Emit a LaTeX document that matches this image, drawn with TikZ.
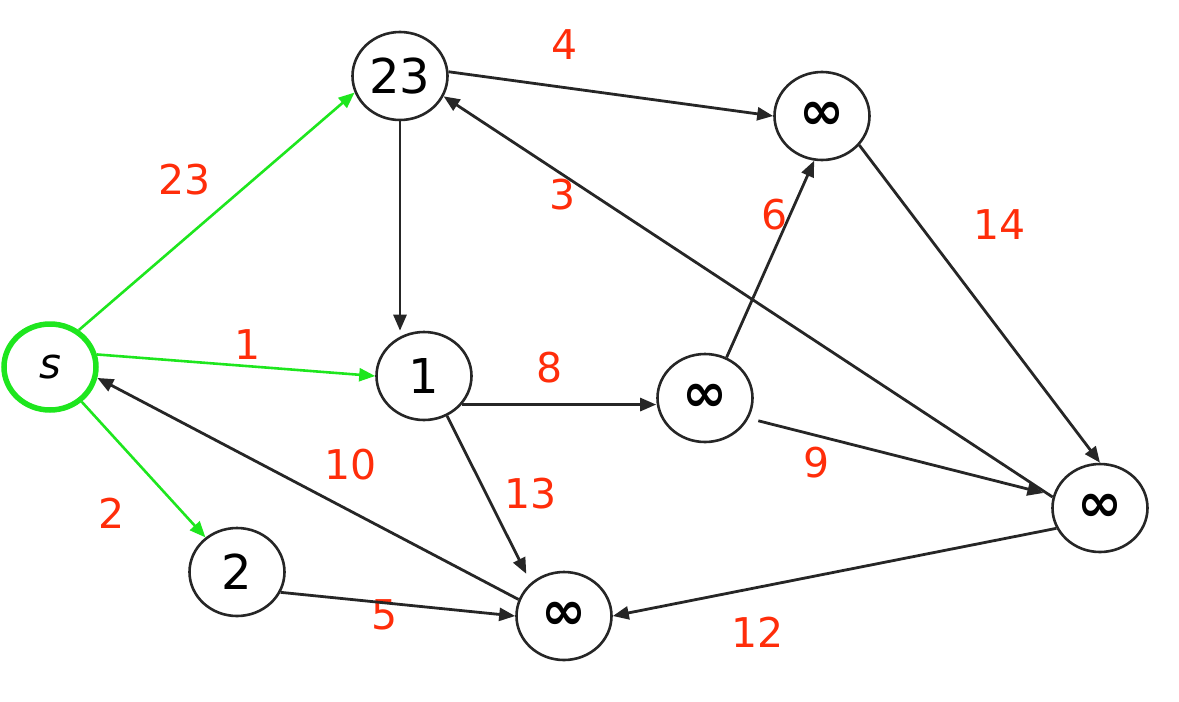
\documentclass[tikz,border=0pt]{standalone}
\usepackage{fontspec}
\setmainfont{DejaVu Sans}
\usetikzlibrary{shapes.geometric,arrows.meta}
\definecolor{lbl}{RGB}{255,45,10}
\definecolor{grn}{RGB}{30,230,30}
\newcommand{\infsym}{{\fontsize{54}{60}\selectfont\bfseries ∞}}
\tikzset{
  vtx/.style={ellipse,draw=black!85,line width=2.6pt,inner sep=0pt,
    minimum width=95pt,minimum height=88pt,
    font=\fontsize{48}{56}\selectfont},
  src/.style={vtx,draw=grn,line width=5.5pt,minimum width=92pt,minimum height=86pt,
    font=\fontsize{42}{50}\selectfont\itshape},
  wt/.style={text=lbl,inner sep=0pt,font=\fontsize{41}{48}\selectfont},
  blk/.style={draw=black!85,line width=2.8pt,-{Triangle[length=16pt,width=13pt]}},
  gre/.style={draw=grn,line width=2.6pt,-{Triangle[length=16pt,width=13pt]}}
}
\begin{document}
\begin{tikzpicture}[x=1pt,y=-1pt]
\useasboundingbox (0,0) rectangle (1179,702);
\node[src] (s) at (50,367) {s};
\node[vtx] (n23) at (400,76) {23};
\node[vtx] (tr) at (822,116) {\infsym};
\node[vtx] (n1) at (424,376) {1};
\node[vtx] (mid) at (705,398) {\infsym};
\node[vtx] (rn) at (1100,508) {\infsym};
\node[vtx] (n2) at (237,572) {2};
\node[vtx] (nb) at (564,616) {\infsym};
% weights
\node[wt] (w23) at (185,180) {23};
\node[wt] (w4) at (565,45) {4};
\node[wt] (w3) at (563,195) {3};
\node[wt] (w6) at (775,215) {6};
\node[wt] (w14) at (1000,225) {14};
\node[wt] (w1) at (248,345) {1};
\node[wt] (w8) at (550,368) {8};
\node[wt] (w9) at (817,463) {9};
\node[wt] (w10) at (351,465) {10};
\node[wt] (w13) at (531,494) {13};
\node[wt] (w2) at (112,513) {2};
\node[wt] (w5) at (385,615) {5};
\node[wt] (w12) at (758,632) {12};
% green edges
\draw[gre] (s.52) -- (n23.200);
\draw[gre] (s.15) -- (n1.west);
\draw[gre] (s) -- (n2);
% black edges
\draw[blk] (nb.160) -- (s.-13);
\draw[blk] (n23.south) -- (n23.south |- n1.north);
\draw[blk] (n23.5) -- (tr.west);
\draw[blk] (rn.167) -- (n23.-25);
\draw[blk] (mid.62) -- (tr.-100);
\draw[blk] (tr.-38) -- (rn.north);
\draw[blk] (n1.-37) -- (n1.-37 -| mid.west);
\draw[blk,shorten >=10pt] (n1.-60) -- (nb.135);
\draw[blk,shorten <=10pt,shorten >=10pt] (mid.-25) -- (rn.165);
\draw[blk] (rn.205) -- (nb.east);
\draw[blk] (n2.-25) -- (nb.west);
\end{tikzpicture}
\end{document}
